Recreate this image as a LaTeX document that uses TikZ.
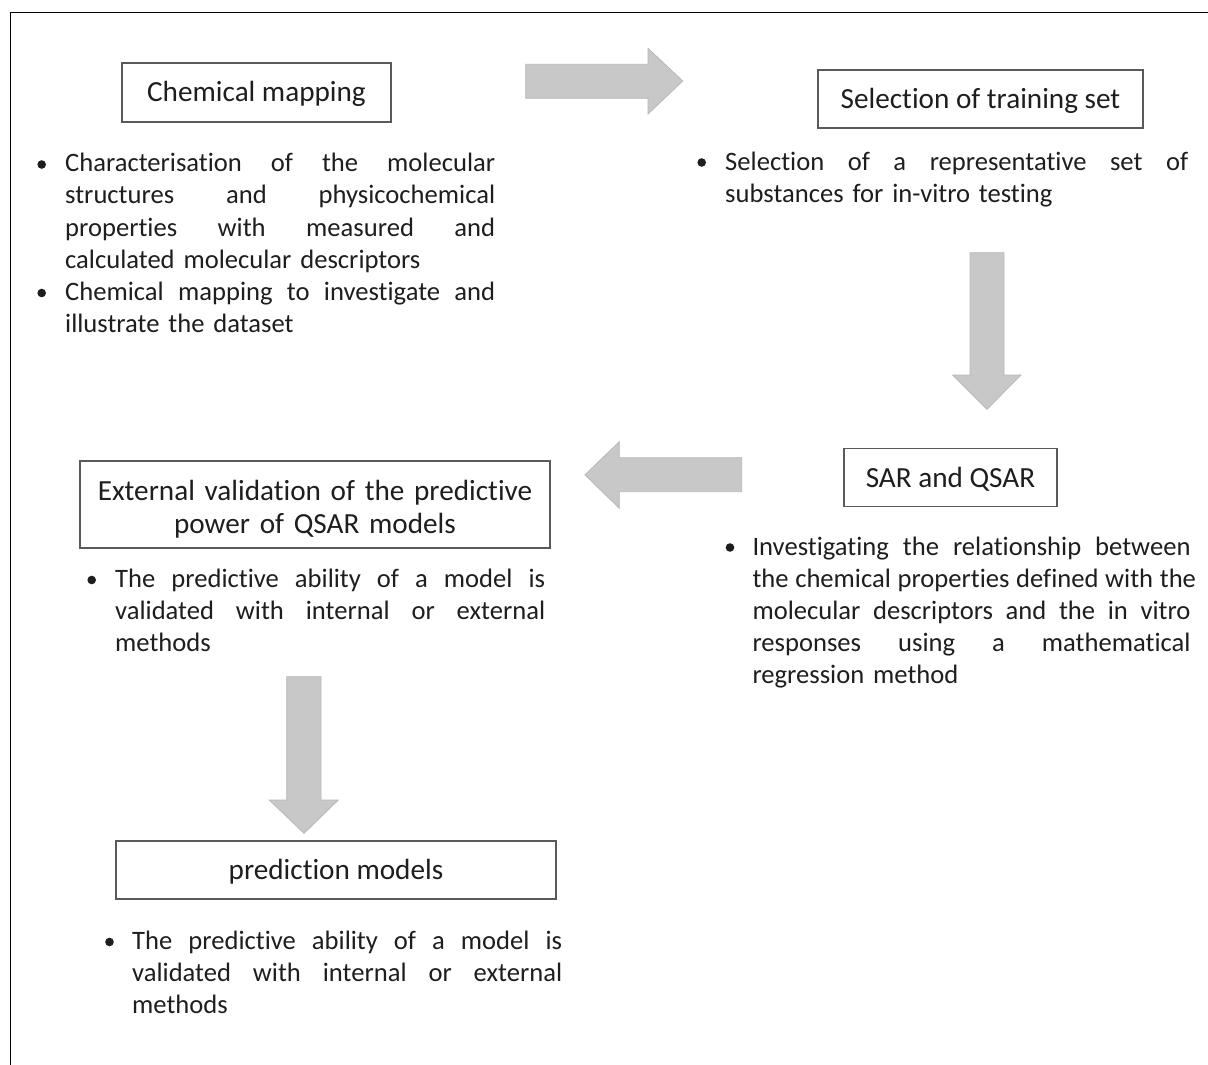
\documentclass[tikz,border=0pt]{standalone}
\usepackage{fontspec}
\setmainfont{Carlito}[Ligatures={NoCommon,NoRequired,NoContextual}]
\definecolor{txt}{HTML}{1E1E1E}
\definecolor{boxline}{HTML}{5A5A5A}
\definecolor{arrfill}{HTML}{C8C8C8}
\definecolor{arrline}{HTML}{B8B8B8}
\newcommand\jline[1]{\leavevmode\hbox to \hsize{\spaceskip=0.3em plus 10em minus 0.05em #1}\\}
\begin{document}
\begin{tikzpicture}[x=1pt,y=-1pt,
  titlebox/.style={draw=boxline, line width=1.3pt, inner sep=0pt, text=txt,
    font=\fontsize{29.2pt}{33.3pt}\selectfont, align=center,
    text height=19pt, text depth=0pt},
  bodytext/.style={anchor=base west, inner sep=0pt, text=txt,
    font=\fontsize{26.6pt}{32.2pt}\selectfont, align=left},
  blockarrow/.style={fill=arrfill, draw=arrline, line width=0.8pt, line join=miter},
  bulletdot/.style={fill=txt}]
\useasboundingbox (0,0) rectangle (1208,1065);
\fill[white] (0,0) rectangle (1208,1065);
\draw[line width=1.6pt, black] (1208,12.5) -- (10.5,12.5) -- (10.5,1065);

% title boxes
\node[titlebox, minimum width=269pt, minimum height=59pt] (chem) at (256.5,92.5) {Chemical mapping};
\node[titlebox, minimum width=325pt, minimum height=58pt] (train) at (980.5,99) {Selection of training set};
\node[titlebox, minimum width=213pt, minimum height=58.5pt] (sar) at (950.5,477.5) {SAR and QSAR};
\node[titlebox, minimum width=470pt, minimum height=87pt, text width=440pt,
      text height=24pt, text depth=33pt] (ext) at (315,504.5)
      {External validation of the predictive\\ power of QSAR models};
\node[titlebox, minimum width=440pt, minimum height=58pt] (pred) at (336,870) {prediction models};

% body texts
\node[bodytext, text width=430pt] (chemtext) at (65,171.7) {%
\jline{Characterisation of the molecular}
\jline{structures and physicochemical}
\jline{properties with measured and}
calculated molecular descriptors\\
\jline{Chemical mapping to investigate and}
illustrate the dataset};
\node[bodytext, text width=463pt] (traintext) at (725,170) {%
\jline{Selection of a representative set of}
substances for in-vitro testing};
\node[bodytext, text width=438pt] (sartext) at (752.3,555) {%
\jline{Investigating the relationship between}
\jline{the chemical properties defined with the}
\jline{molecular descriptors and the in vitro}
\jline{responses using a mathematical}
regression method};
\node[bodytext, text width=430pt] (exttext) at (115,587.5) {%
\jline{The predictive ability of a model is}
\jline{validated with internal or external}
methods};
\node[bodytext, text width=430pt] (predtext) at (132,949.5) {%
\jline{The predictive ability of a model is}
\jline{validated with internal or external}
methods};

% bullets
\fill[bulletdot] (41.7,164.5) circle[radius=4.3pt];
\fill[bulletdot] (41.7,293) circle[radius=4.3pt];
\fill[bulletdot] (701.7,162.5) circle[radius=4.3pt];
\fill[bulletdot] (91.7,580) circle[radius=4.3pt];
\fill[bulletdot] (730,547.5) circle[radius=4.3pt];
\fill[bulletdot] (109.5,942) circle[radius=4.3pt];

% block arrows
\draw[blockarrow] (525.7,64.3) -- (648,64.3) -- (648,48.3) -- (682.7,81) -- (648,114) -- (648,98.3) -- (525.7,98.3) -- cycle;
\draw[blockarrow] (741.7,457.7) -- (619.3,457.7) -- (619.3,441.7) -- (585,474.8) -- (619.3,508.3) -- (619.3,491.7) -- (741.7,491.7) -- cycle;
\draw[blockarrow] (970,252.7) -- (1004,252.7) -- (1004,375) -- (1021,375) -- (987,409.3) -- (952.7,375) -- (970,375) -- cycle;
\draw[blockarrow] (286.7,676.7) -- (321,676.7) -- (321,800) -- (338.3,800) -- (304,833.3) -- (269.3,800) -- (286.7,800) -- cycle;
\end{tikzpicture}
\end{document}
